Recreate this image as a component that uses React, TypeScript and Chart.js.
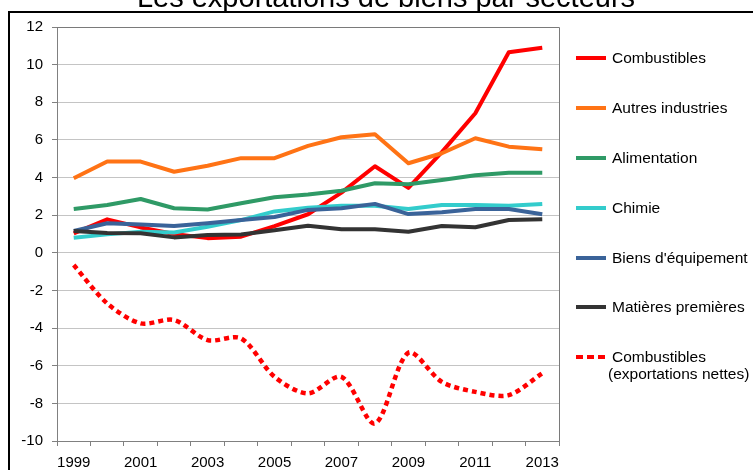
import React, { useEffect, useRef } from "react";
import { Chart, registerables } from "chart.js";

Chart.register(...registerables);

const years = ["1999","2000","2001","2002","2003","2004","2005","2006","2007","2008","2009","2010","2011","2012","2013"];

const combustibles = [1.03, 1.78, 1.35, 1.0, 0.78, 0.86, 1.42, 2.05, 3.2, 4.6, 3.45, 5.35, 7.42, 10.66, 10.9];
const autresIndustries = [3.96, 4.85, 4.85, 4.31, 4.63, 5.03, 5.03, 5.68, 6.14, 6.3, 4.76, 5.29, 6.09, 5.64, 5.5];
const alimentation = [2.33, 2.54, 2.86, 2.37, 2.3, 2.63, 2.95, 3.1, 3.3, 3.7, 3.64, 3.87, 4.12, 4.26, 4.26];
const chimie = [0.8, 0.98, 1.12, 1.08, 1.39, 1.74, 2.2, 2.4, 2.5, 2.5, 2.33, 2.54, 2.54, 2.5, 2.6];
const biensEquipement = [1.16, 1.57, 1.51, 1.43, 1.57, 1.74, 1.9, 2.28, 2.37, 2.6, 2.06, 2.15, 2.33, 2.33, 2.05];
const matieresPremieres = [1.16, 1.05, 1.04, 0.82, 0.95, 0.97, 1.2, 1.44, 1.25, 1.25, 1.12, 1.43, 1.36, 1.74, 1.78];
const combustiblesNettes = [-0.65, -2.69, -3.75, -3.57, -4.64, -4.55, -6.59, -7.47, -6.59, -9.07, -5.31, -6.86, -7.39, -7.56, -6.4];

const seriesNames = ["Combustibles", "Autres industries", "Alimentation", "Chimie", "Biens d'équipement", "Matières premières", "Combustibles\n(exportations nettes)"];
const seriesColors = ["#FF0000", "#FF7315", "#2F9A66", "#33CCCC", "#3A6399", "#333333", "#FF0000"];
const seriesData = [combustibles, autresIndustries, alimentation, chimie, biensEquipement, matieresPremieres, combustiblesNettes];

const yMin = -10;
const yMax = 12;
const yStep = 2;

const FONT = "'Liberation Sans', Arial, sans-serif";

export default function App() {
  const canvasRef = useRef<HTMLCanvasElement | null>(null);

  useEffect(() => {
    if (!canvasRef.current) return;
    const framePlugin = {
      id: "frame",
      beforeDatasetsDraw(chart: any) {
        const { ctx, chartArea } = chart;
        const { left, top, right, bottom } = chartArea;
        ctx.save();
        ctx.strokeStyle = "#7a7a7a";
        ctx.lineWidth = 1;
        ctx.beginPath();
        ctx.moveTo(left, Math.round(top) + 0.5);
        ctx.lineTo(Math.round(right) + 0.5, Math.round(top) + 0.5);
        ctx.lineTo(Math.round(right) + 0.5, bottom);
        ctx.stroke();
        ctx.restore();
      },
    };

    const datasets = seriesData.map((d, i) => {
      const dotted = i === seriesData.length - 1;
      return {
        label: seriesNames[i],
        data: d,
        borderColor: seriesColors[i],
        backgroundColor: seriesColors[i],
        borderWidth: dotted ? 4.5 : 4,
        borderDash: dotted ? [5, 4] : [],
        borderCapStyle: "butt" as const,
        borderJoinStyle: "round" as const,
        pointRadius: 0,
        tension: dotted ? 0.3 : 0,
        fill: false,
        order: seriesData.length - i,
      };
    });

    const chart = new Chart(canvasRef.current, {
      type: "line",
      data: { labels: years, datasets },
      plugins: [framePlugin],
      options: {
        animation: false,
        responsive: false,
        devicePixelRatio: 1,
        layout: { padding: { left: 0, top: 27, right: 194, bottom: 0 } },
        plugins: { legend: { display: false }, title: { display: false }, tooltip: { enabled: false } },
        scales: {
          x: {
            type: "category",
            offset: true,
            grid: {
              offset: true,
              drawOnChartArea: false,
              drawTicks: true,
              tickLength: 5,
              tickColor: "#808080",
            },
            border: { color: "#808080", width: 1 },
            ticks: {
              autoSkip: false,
              maxRotation: 0,
              minRotation: 0,
              padding: 8,
              color: "#000",
              font: { family: FONT, size: 15 },
              callback: (_v: any, i: number) => (i % 2 === 0 ? years[i] : ""),
            },
            afterFit: (scale: any) => {
              scale.height = 29;
            },
          },
          y: {
            min: yMin,
            max: yMax,
            grid: {
              color: "#C4C4C4",
              drawTicks: true,
              tickLength: 5,
              tickColor: "#808080",
            },
            border: { color: "#808080", width: 1 },
            ticks: {
              stepSize: yStep,
              padding: 9,
              color: "#000",
              font: { family: FONT, size: 15 },
            },
            afterFit: (scale: any) => {
              scale.width = 57;
            },
          },
        },
      },
    });
    return () => chart.destroy();
  }, []);

  const legendTops = [58, 108, 158, 208, 258, 307, 357];

  return (
    <div style={{ position: "absolute", left: 0, top: 0, width: 753, height: 470, overflow: "hidden", background: "#fff", fontFamily: FONT }}>
      <canvas ref={canvasRef} width={753} height={470} style={{ position: "absolute", left: 0, top: 0, width: 753, height: 470 }} />
      <div style={{ position: "absolute", left: 8, top: 11, width: 800, height: 500, borderLeft: "2px solid #000", borderTop: "2px solid #000", pointerEvents: "none" }} />
      <div style={{ position: "absolute", left: 386, top: -17, transform: "translateX(-50%)", whiteSpace: "nowrap", fontSize: 29, lineHeight: "29px", color: "#000" }}>
        Les exportations de biens par secteurs
      </div>
      {seriesNames.map((name, i) => {
        const dotted = i === seriesNames.length - 1;
        const lines = name.split("\n");
        const cy = legendTops[i];
        return (
          <React.Fragment key={i}>
            {dotted ? (
              <div style={{ position: "absolute", left: 576, top: cy - 2, width: 30, height: 4, display: "flex", gap: 4 }}>
                {[0, 1, 2].map((k) => (
                  <div key={k} style={{ width: 7, height: 4, background: seriesColors[i] }} />
                ))}
              </div>
            ) : (
              <div style={{ position: "absolute", left: 576, top: cy - 2, width: 30, height: 4, background: seriesColors[i] }} />
            )}
            {lines.map((ln, k) => (
              <div key={k} style={{ position: "absolute", left: k === 0 ? 612 : 608, top: cy - 9 + k * 17, fontSize: 15.5, lineHeight: "17px", color: "#000", whiteSpace: "nowrap" }}>
                {ln}
              </div>
            ))}
          </React.Fragment>
        );
      })}
    </div>
  );
}
